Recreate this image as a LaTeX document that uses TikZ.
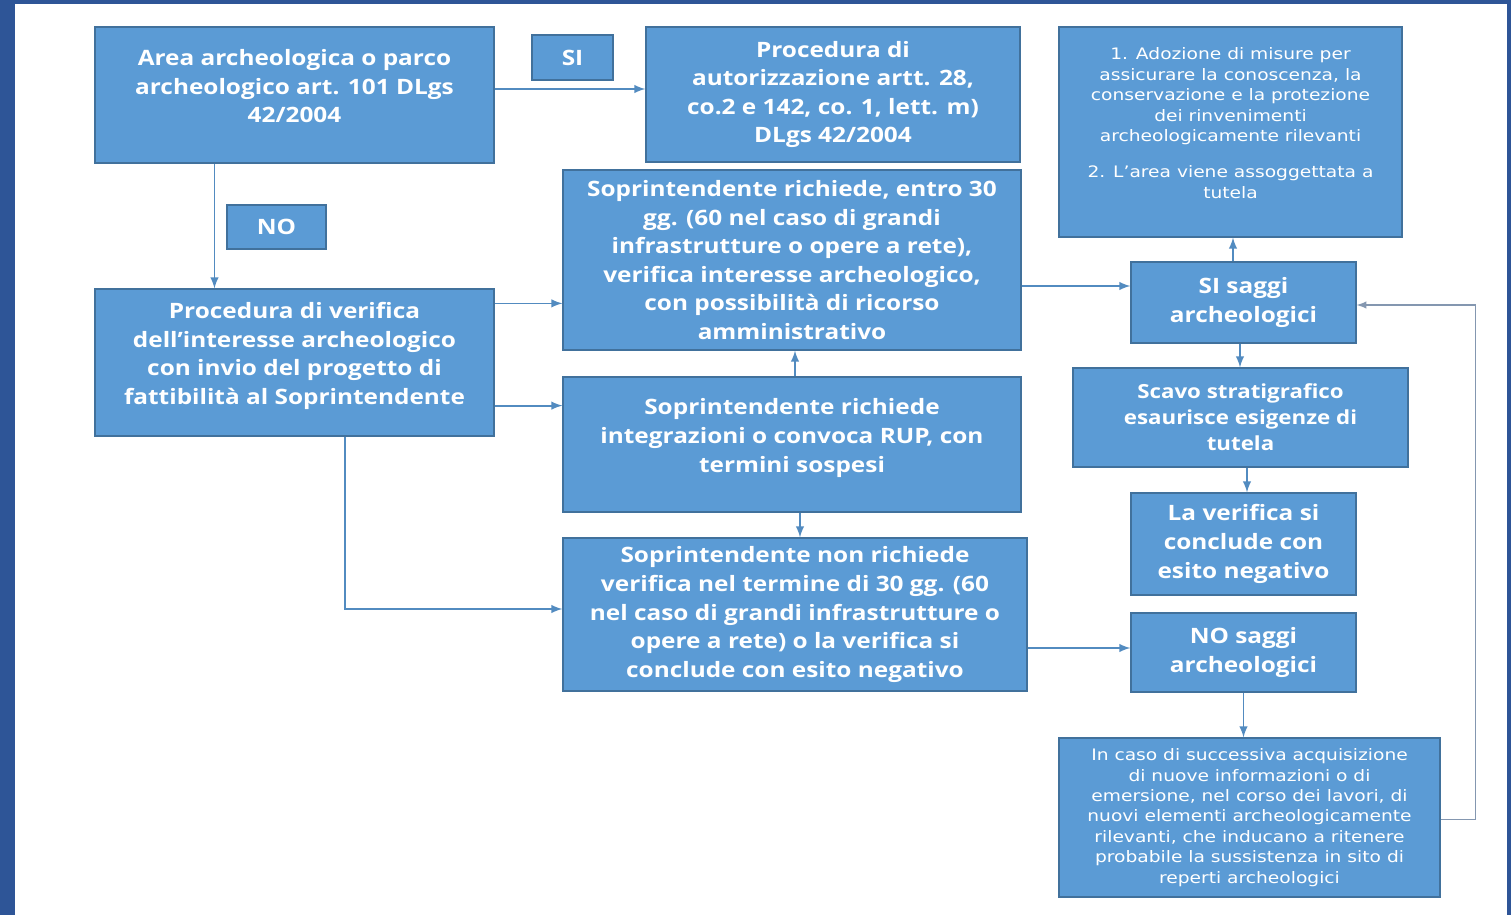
\documentclass[tikz,border=0pt]{standalone}
\usepackage{fontspec}
\setmainfont{Open Sans}
\newfontfamily\boxfont{Open Sans}[FakeStretch=1.15]
\newfontfamily\notefont{DejaVu Sans}[FakeStretch=1.18]
\usepackage{tikz}
\definecolor{boxblue}{HTML}{5B9BD5}
\definecolor{boxline}{HTML}{41719C}
\definecolor{frameblue}{HTML}{2E5597}
\definecolor{loopgray}{HTML}{8497B0}
\usetikzlibrary{positioning, calc, arrows}

\begin{document}
\begin{tikzpicture}[x=0.5pt, y=-0.5pt,
    box/.style={draw=boxline, line width=0.6pt, fill=boxblue, text=white, align=center, inner sep=2pt,
        font=\boxfont\bfseries\fontsize{10.6}{14.3}\selectfont},
    notebox/.style={box, font=\notefont\fontsize{7.9}{10.2}\selectfont},
    raised/.style={text depth=9pt},
    arr/.style={-latex, draw=boxblue!90!black, line width=0.9pt},
    looparr/.style={-latex, draw=loopgray, line width=0.7pt}]

    % frame and page
    \useasboundingbox (0,0) rectangle (1511,915);
    \fill[frameblue] (0,0) rectangle (15,915);
    \fill[frameblue] (0,0) rectangle (1511,4);
    \fill[frameblue] (1507,0) rectangle (1511,915);

    % left column
    \node[box, raised, minimum width=199.5pt, minimum height=68pt] (area) at (294.5,95) {
        Area archeologica o parco\\
        archeologico art. 101 DLgs\\
        42/2004
    };
    \node[box, minimum width=40.5pt, minimum height=22.5pt] (si) at (572.5,57.5) {SI};
    \node[box, minimum width=49.5pt, minimum height=22pt] (no) at (276.5,227) {NO};
    \node[box, raised, minimum width=199.5pt, minimum height=73.5pt] (verifica) at (294.5,362.5) {
        Procedura di verifica\\
        dell’interesse archeologico\\
        con invio del progetto di\\
        fattibilità al Soprintendente
    };

    % middle column
    \node[box, minimum width=187pt, minimum height=67.5pt] (autor) at (833,94.5) {
        Procedura di\\
        autorizzazione artt. 28,\\
        co.2 e 142, co. 1, lett. m)\\
        DLgs 42/2004
    };
    \node[box, minimum width=229pt, minimum height=90pt] (richiede) at (792,260) {
        Soprintendente richiede, entro 30\\
        gg. (60 nel caso di grandi\\
        infrastrutture o opere a rete),\\
        verifica interesse archeologico,\\
        con possibilità di ricorso\\
        amministrativo
    };
    \node[box, raised, minimum width=229pt, minimum height=67.5pt] (integr) at (792,444.5) {
        Soprintendente richiede\\
        integrazioni o convoca RUP, con\\
        termini sospesi
    };
    \node[box, minimum width=232pt, minimum height=76.5pt] (nonrich) at (795,614.5) {
        Soprintendente non richiede\\
        verifica nel termine di 30 gg. (60\\
        nel caso di grandi infrastrutture o\\
        opere a rete) o la verifica si\\
        conclude con esito negativo
    };

    % right column
    \node[notebox, raised, minimum width=171.5pt, minimum height=105pt] (tutela) at (1230.5,132) {
        1. Adozione di misure per\\
        assicurare la conoscenza, la\\
        conservazione e la protezione\\
        dei rinvenimenti\\
        archeologicamente rilevanti\\[8pt]
        2. L’area viene assoggettata a\\
        tutela
    };
    \node[box, minimum width=112.5pt, minimum height=40.5pt] (sisaggi) at (1243.5,302.5) {
        SI saggi\\
        archeologici
    };
    \node[box, minimum width=167.5pt, minimum height=49.5pt, font=\boxfont\bfseries\fontsize{9.7}{13}\selectfont] (scavo) at (1240.5,417.5) {
        Scavo stratigrafico\\
        esaurisce esigenze di\\
        tutela
    };
    \node[box, minimum width=112.5pt, minimum height=51pt] (esito) at (1243.5,544) {
        La verifica si\\
        conclude con\\
        esito negativo
    };
    \node[box, minimum width=112.5pt, minimum height=39.5pt] (nosaggi) at (1243.5,652.5) {
        NO saggi\\
        archeologici
    };
    \node[notebox, minimum width=190.5pt, minimum height=79.5pt] (caso) at (1249.5,817.5) {
        In caso di successiva acquisizione\\
        di nuove informazioni o di\\
        emersione, nel corso dei lavori, di\\
        nuovi elementi archeologicamente\\
        rilevanti, che inducano a ritenere\\
        probabile la sussistenza in sito di\\
        reperti archeologici
    };

    % connectors
    \coordinate (nodrop) at ($(area.south west)!.3!(area.south east)$);
    \coordinate (latdrop) at ($(verifica.south west)!.627!(verifica.south east)$);
    \draw[arr] ([yshift=3pt]area.east) -- ([yshift=3pt]area.east -| autor.west);
    \draw[arr] (nodrop) -- (nodrop |- verifica.north);
    \draw[arr] ([yshift=-7.5pt]verifica.north east) -- ([yshift=-7.5pt]verifica.north east -| richiede.west);
    \draw[arr] ([yshift=15.5pt]verifica.south east) -- ([yshift=15.5pt]verifica.south east -| integr.west);
    \draw[arr] (latdrop) |- ([yshift=2.75pt]nonrich.west);
    \draw[arr] ([xshift=1.5pt]integr.north) -- ([xshift=1.5pt]integr.north |- richiede.south);
    \draw[arr] ([xshift=4pt]integr.south) -- ([xshift=4pt]integr.south |- nonrich.north);
    \draw[arr] ([yshift=-13pt]richiede.east) -- ([yshift=-13pt]richiede.east -| sisaggi.west);
    \draw[arr] ([xshift=-5.25pt]sisaggi.north) -- ([xshift=-5.25pt]sisaggi.north |- tutela.south);
    \draw[arr] ([xshift=-1.75pt]sisaggi.south) -- ([xshift=-1.75pt]sisaggi.south |- scavo.north);
    \draw[arr] ([xshift=3.25pt]scavo.south) -- ([xshift=3.25pt]scavo.south |- esito.north);
    \draw[arr] ([yshift=2.25pt]nosaggi.west -| nonrich.east) -- ([yshift=2.25pt]nosaggi.west);
    \draw[arr] (nosaggi.south) -- (nosaggi.south |- caso.north);
    \draw[looparr] ([yshift=-1pt]caso.east) -- ++(35,0) |- ([yshift=-1.25pt]sisaggi.east);
\end{tikzpicture}
\end{document}
